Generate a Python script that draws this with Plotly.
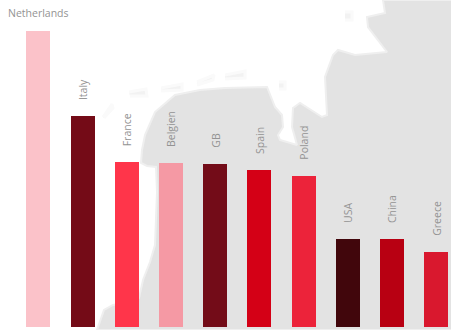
import plotly.graph_objects as go

# Data
countries = ["Netherlands", "Italy", "France", "Belgien", "GB", "Spain", "Poland", "USA", "China", "Greece"]
values = [296, 211, 165, 164, 163, 157, 151, 88, 88, 75]
bar_colors = ["#fbc2c9", "#740b17", "#ff354a", "#f599a4", "#730c18", "#d40016", "#ec233a", "#41060c", "#b80012", "#d9182e"]
label_angles = [0, -90, -90, -90, -90, -90, -90, -90, -90, -90]

# Background map outline (land), in picture units
land_x = [451, 383, 385, 367, 368, 387, 355, 338, 333, 325, 327, 322, 300, 293, 292, 297, 280, 278, 283, 282, 275, 267, 225, 200, 175, 155, 145, 142, 141, 147, 156, 157, 155, 150, 143, 139, 125, 113, 104, 97, 97, 451]
land_y = [0, 0, 13, 17, 27, 52, 55, 50, 55, 77, 115, 117, 103, 108, 127, 145, 140, 135, 127, 115, 107, 87, 88, 90, 95, 112, 135, 150, 163, 166, 167, 192, 245, 262, 280, 298, 303, 305, 310, 328, 330, 330]
island_x = [[103, 112, 113, 104], [129, 146, 147, 130], [161, 182, 182, 161], [197, 214, 213, 197], [225, 245, 245, 225], [279, 285, 285, 279], [345, 352, 352, 345]]
island_y = [[117, 104, 108, 118], [92, 89, 96, 96], [88, 84, 90, 91], [82, 75, 80, 85], [75, 71, 78, 79], [82, 82, 89, 89], [12, 12, 20, 20]]

fig = go.Figure()
fig.add_trace(go.Scatter(x=land_x, y=land_y, mode="lines", fill="toself", fillcolor="#e3e3e3",
                         line=dict(width=2, color="#efefef"), hoverinfo="skip", showlegend=False))
for ix, iy in zip(island_x, island_y):
    fig.add_trace(go.Scatter(x=ix, y=iy, mode="lines", fill="toself", fillcolor="#f2f2f2",
                             line=dict(width=3, color="#fafafa"), hoverinfo="skip", showlegend=False))

fig.add_trace(go.Bar(x=countries, y=values, marker=dict(color=bar_colors, line=dict(width=0)),
                     width=0.543, xaxis="x2", yaxis="y2", showlegend=False))

annotations = []
for c, v, a in zip(countries, values, label_angles):
    annotations.append(dict(x=c, y=v, xref="x2", yref="y2", text=c, showarrow=False, textangle=a,
                            xanchor="center", yanchor="bottom", yshift=9 if a == 0 else 14,
                            font=dict(family="Open Sans", size=10.5, color="#939393")))

fig.update_layout(
    width=451, height=330, margin=dict(l=0, r=0, t=0, b=0), autosize=False,
    paper_bgcolor="white", plot_bgcolor="white", bargap=0,
    xaxis=dict(range=[0, 451], visible=False, fixedrange=True),
    yaxis=dict(range=[330, 0], visible=False, fixedrange=True),
    xaxis2=dict(overlaying="x", type="category", range=[-0.868, 9.332], visible=False,
                categoryorder="array", categoryarray=countries),
    yaxis2=dict(overlaying="y", range=[-3, 327], visible=False),
    annotations=annotations,
)
fig.write_html("out.html", config=dict(displayModeBar=False),
               post_script="document.body.style.margin='0';")
